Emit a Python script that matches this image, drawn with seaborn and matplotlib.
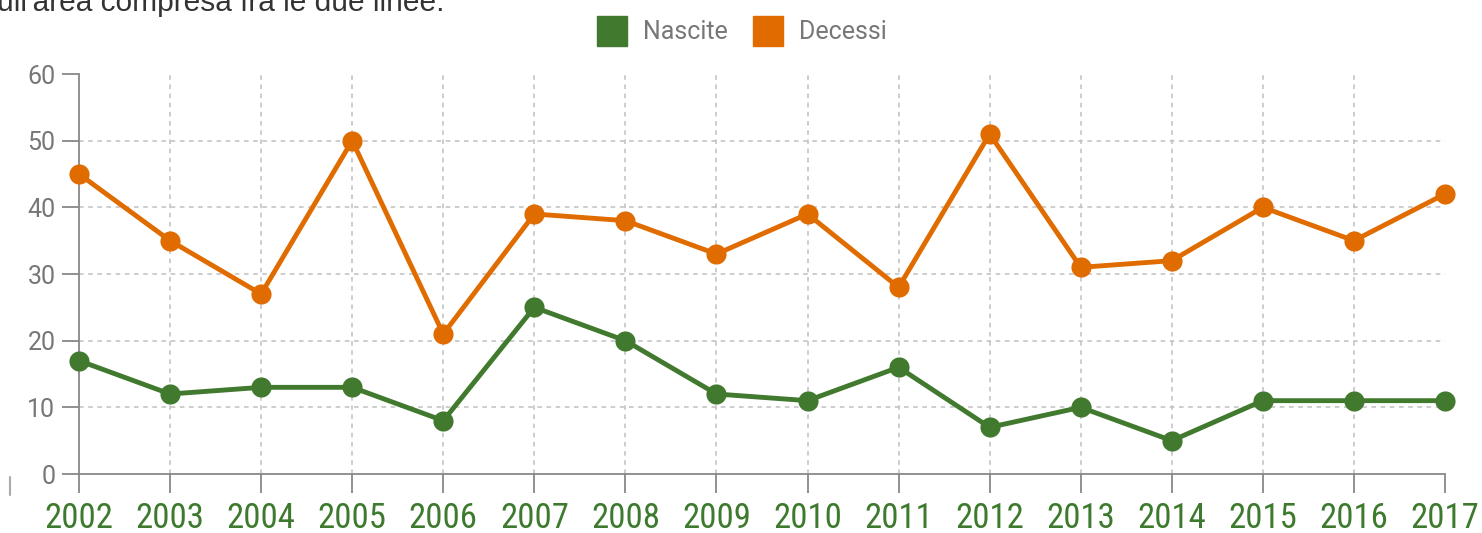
import matplotlib
matplotlib.use("Agg")
import matplotlib.pyplot as plt
import seaborn as sns
import pandas as pd

sns.set_style("white")
plt.rcParams['font.family'] = ['Roboto', 'DejaVu Sans']

anni = list(range(2002, 2018))
nascite = [17, 12, 13, 13, 8, 25, 20, 12, 11, 16, 7, 10, 5, 11, 11, 11]
decessi = [45, 35, 27, 50, 21, 39, 38, 33, 39, 28, 51, 31, 32, 40, 35, 42]
serie = ["Nascite", "Decessi"]
colori = {"Nascite": "#41792f", "Decessi": "#e06c00"}

df = pd.DataFrame({"anno": anni, "Nascite": nascite, "Decessi": decessi})
df = pd.melt(df, ["anno"], value_vars=serie, var_name="serie", value_name="valore")

fig = plt.figure(figsize=(14.82, 5.33), dpi=100)
ax = fig.add_axes([79 / 1482, 1 - 474 / 533, (1445 - 79) / 1482, 400 / 533])

sns.lineplot(ax=ax, data=df, x="anno", y="valore", hue="serie", hue_order=serie,
             palette=colori, marker="o", markersize=14.5, markeredgewidth=0,
             linewidth=3.5, legend=False, clip_on=False, zorder=3)

ax.set_xlim(2002, 2017)
ax.set_ylim(0, 60)
ax.set_xticks(anni)
ax.set_yticks(range(0, 61, 10))
ax.set_xlabel("")
ax.set_ylabel("")

# griglia tratteggiata
for y in range(10, 60, 10):
    ax.axhline(y, color="#c0c0c0", lw=1.1, ls=(0, (3, 3)), zorder=1)
for x in anni[1:-1]:
    ax.axvline(x, color="#c0c0c0", lw=1.1, ls=(0, (3, 3)), zorder=1)

for s in ["top", "right"]:
    ax.spines[s].set_visible(False)
for s in ["left", "bottom"]:
    ax.spines[s].set_color("#888888")
    ax.spines[s].set_linewidth(1.3)

ax.tick_params(axis="y", direction="out", length=12, width=1.3, color="#888888",
               labelsize=18, labelcolor="#777777", pad=5, left=True)
ax.tick_params(axis="x", direction="out", length=14, width=1.3, color="#888888",
               labelsize=25, labelcolor="#3d7a2e", pad=6, bottom=True)
for t in ax.get_xticklabels():
    t.set_family(["Roboto Condensed", "DejaVu Sans"])

# legenda in alto
handles = [plt.Rectangle((0, 0), 1, 1, color=colori[s]) for s in serie]
fig.legend(handles, serie, loc="center", bbox_to_anchor=(742 / 1482, 1 - 31 / 533),
           ncol=2, frameon=False, fontsize=18, labelcolor="#777777",
           handlelength=1.2, handleheight=1.45, handletextpad=0.64, columnspacing=1.0)

# testo tagliato in alto
fig.text(-0.012, 1 - 11 / 533, "sull'area compresa fra le due linee.", fontsize=21.5,
         color="#333333", va="baseline", ha="left", family=["Liberation Sans", "DejaVu Sans"])

# piccolo segno grigio in basso a sinistra
fig.add_artist(plt.Line2D([10 / 1482, 10 / 1482], [1 - 477 / 533, 1 - 495 / 533],
                          color="#aaaaaa", lw=1.5))

fig.savefig("out.png", dpi=100)
